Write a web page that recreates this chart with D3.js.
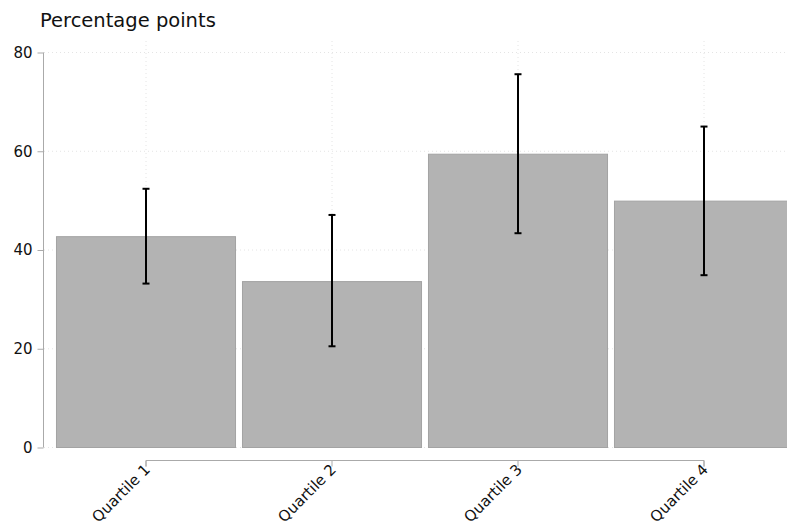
<!DOCTYPE html>
<html><head><meta charset="utf-8">
<script src="https://cdn.jsdelivr.net/npm/d3@7"></script>
<style>body{margin:0;background:#fff}svg{display:block}text{font-family:"DejaVu Sans",sans-serif}</style>
</head><body><svg id="c" width="787" height="532"></svg>
<script>
const categories = ["Quartile 1","Quartile 2","Quartile 3","Quartile 4"];
const values = [42.7, 33.6, 59.4, 49.9];
const lower = [33.2, 20.5, 43.4, 34.9];
const upper = [52.4, 47.1, 75.6, 65.0];
const yTicks = [0,20,40,60,80];
const title = "Percentage points";

const svg = d3.select("#c");
const x = d3.scaleBand().domain(categories).range([53, 797]).paddingInner(0.032).paddingOuter(0.016);
const y = d3.scaleLinear().domain([0,80]).range([447.5, 52.5]);
const cx = d => x(d) + x.bandwidth()/2;

// grid
const g = svg.append("g");
g.selectAll("line.h").data(yTicks).join("line")
  .attr("x1",44).attr("x2",787).attr("y1",d=>y(d)).attr("y2",d=>y(d))
  .attr("stroke","#e4e4e4").attr("stroke-dasharray","1,3");
g.selectAll("line.v").data(categories).join("line")
  .attr("x1",d=>cx(d)).attr("x2",d=>cx(d)).attr("y1",41).attr("y2",447)
  .attr("stroke","#e4e4e4").attr("stroke-dasharray","1,3");

// bars
svg.append("g").selectAll("rect").data(categories).join("rect")
  .attr("x",d=>x(d)+0.5).attr("width",x.bandwidth()-1)
  .attr("y",(d,i)=>y(values[i])).attr("height",(d,i)=>y(0)-y(values[i]))
  .attr("fill","#b3b3b3").attr("stroke","#a3a3a3").attr("stroke-width",1);

// error bars
const eb = svg.append("g").attr("stroke","#000").attr("stroke-width",2);
categories.forEach((c,i)=>{
  const xx = Math.round(cx(c));
  eb.append("line").attr("x1",xx).attr("x2",xx).attr("y1",y(lower[i])).attr("y2",y(upper[i]));
  eb.append("line").attr("x1",xx-3.5).attr("x2",xx+3.5).attr("y1",y(lower[i])).attr("y2",y(lower[i]));
  eb.append("line").attr("x1",xx-3.5).attr("x2",xx+3.5).attr("y1",y(upper[i])).attr("y2",y(upper[i]));
});

// y axis
const ya = svg.append("g").attr("transform","translate(43.5,0)")
  .call(d3.axisLeft(y).tickValues(yTicks).tickSize(6).tickPadding(5));
ya.select(".domain").attr("stroke","#aaa").attr("d","M0,"+y(80)+"V"+y(0));
ya.selectAll(".tick line").attr("stroke","#aaa");
ya.selectAll(".tick text").attr("font-size",15).attr("fill","#111").attr("font-family","DejaVu Sans");

// x axis
const xa = svg.append("g").attr("transform","translate(0,460.5)")
  .call(d3.axisBottom(x).tickSize(6).tickPadding(4));
xa.select(".domain").attr("stroke","#aaa").attr("d","M"+Math.round(cx(categories[0]))+",6V0H"+Math.round(cx(categories[3]))+"V6");
xa.selectAll(".tick line").attr("stroke","#aaa");
xa.selectAll(".tick text").attr("font-size",15).attr("fill","#111").attr("font-family","DejaVu Sans")
  .attr("text-anchor","end").attr("x",0).attr("y",0).attr("dy",0)
  .attr("transform","translate(5,10) rotate(-45)");

svg.append("text").attr("x",40).attr("y",26.5).attr("font-size",19.5).attr("fill","#111").text(title);
</script></body></html>
